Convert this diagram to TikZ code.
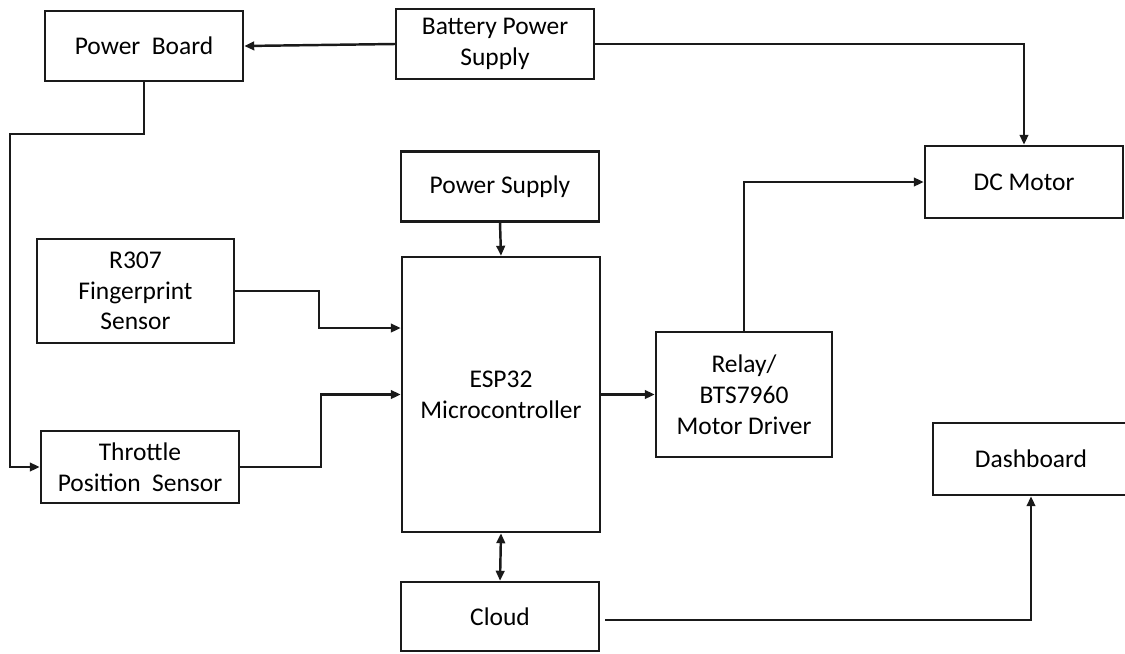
\documentclass[tikz,border=0pt]{standalone}
\usepackage{fontspec}
\setmainfont{Carlito}
\usepackage{tikz}
\usetikzlibrary{arrows.meta,positioning}
\definecolor{ink}{HTML}{1A1A1A}
\tikzset{
  block/.style={draw=ink,fill=white,line width=1.4pt,
                minimum width=3.96cm,minimum height=1.4cm,
                align=center,inner sep=2pt,
                font=\fontsize{14.5}{17.5}\selectfont},
  flowarr/.style={-{Triangle[length=2mm,width=1.7mm]},line width=1.4pt,color=ink},
  biarr/.style={{Triangle[length=2mm,width=1.7mm]}-{Triangle[length=2mm,width=1.7mm]},
                line width=1.4pt,color=ink}
}

\begin{document}
\begin{tikzpicture}[x=0.02cm,y=-0.02cm]
  \useasboundingbox (0,0) rectangle (1125,653);

  % blocks
  \node[block] (pwrboard) at (144,46) {Power~~Board};
  \node[block] (battery) at (495,44) {Battery Power\\Supply};
  \node[block] (pwrsupply) at (500,186.5) {Power Supply};
  \node[block,minimum height=1.44cm] (dcmotor) at (1024,182) {DC Motor};
  \node[block,minimum width=3.94cm,minimum height=2.08cm] (r307) at (135.5,291)
    {R307\\Fingerprint\\Sensor};
  \node[block,minimum height=5.5cm] (esp) at (501,394.5) {ESP32\\Microcontroller};
  \node[block,minimum width=3.52cm,minimum height=2.5cm] (relay) at (744,394.5)
    {Relay/\\BTS7960\\Motor Driver};
  \node[block,minimum height=1.44cm] (throttle) at (140,467) {Throttle\\Position~~Sensor};
  \node[block,minimum width=3.92cm,minimum height=1.44cm] (dashboard) at (1031,459) {Dashboard};
  \node[block,minimum height=1.38cm] (cloud) at (500,616.5) {Cloud};

  \coordinate (pbbend) at (10,134);

  % power lines
  \draw[flowarr] (battery.west) -- (pwrboard.east);
  \draw[flowarr] (battery.east) -| (dcmotor.north);
  \draw[flowarr] (pwrboard.south) |- (pbbend) |- (throttle.west);
  \draw[flowarr] (pwrsupply.south) -- (esp.north);

  % signals into the controller
  \draw[flowarr] (r307.east) -- ++(84,0) |- ([yshift=1.33cm]esp.west);
  \draw[flowarr] (throttle.east) -- ++(81,0) |- (esp.west);

  % controller outputs
  \draw[flowarr] (esp.east) -- (relay.west);
  \draw[flowarr] (relay.north) |- (dcmotor.west);
  \draw[biarr] (esp.south) -- (cloud.north);
  \draw[flowarr] ([xshift=0.1cm,yshift=-0.07cm]cloud.east) -| (dashboard.south);
\end{tikzpicture}
\end{document}
